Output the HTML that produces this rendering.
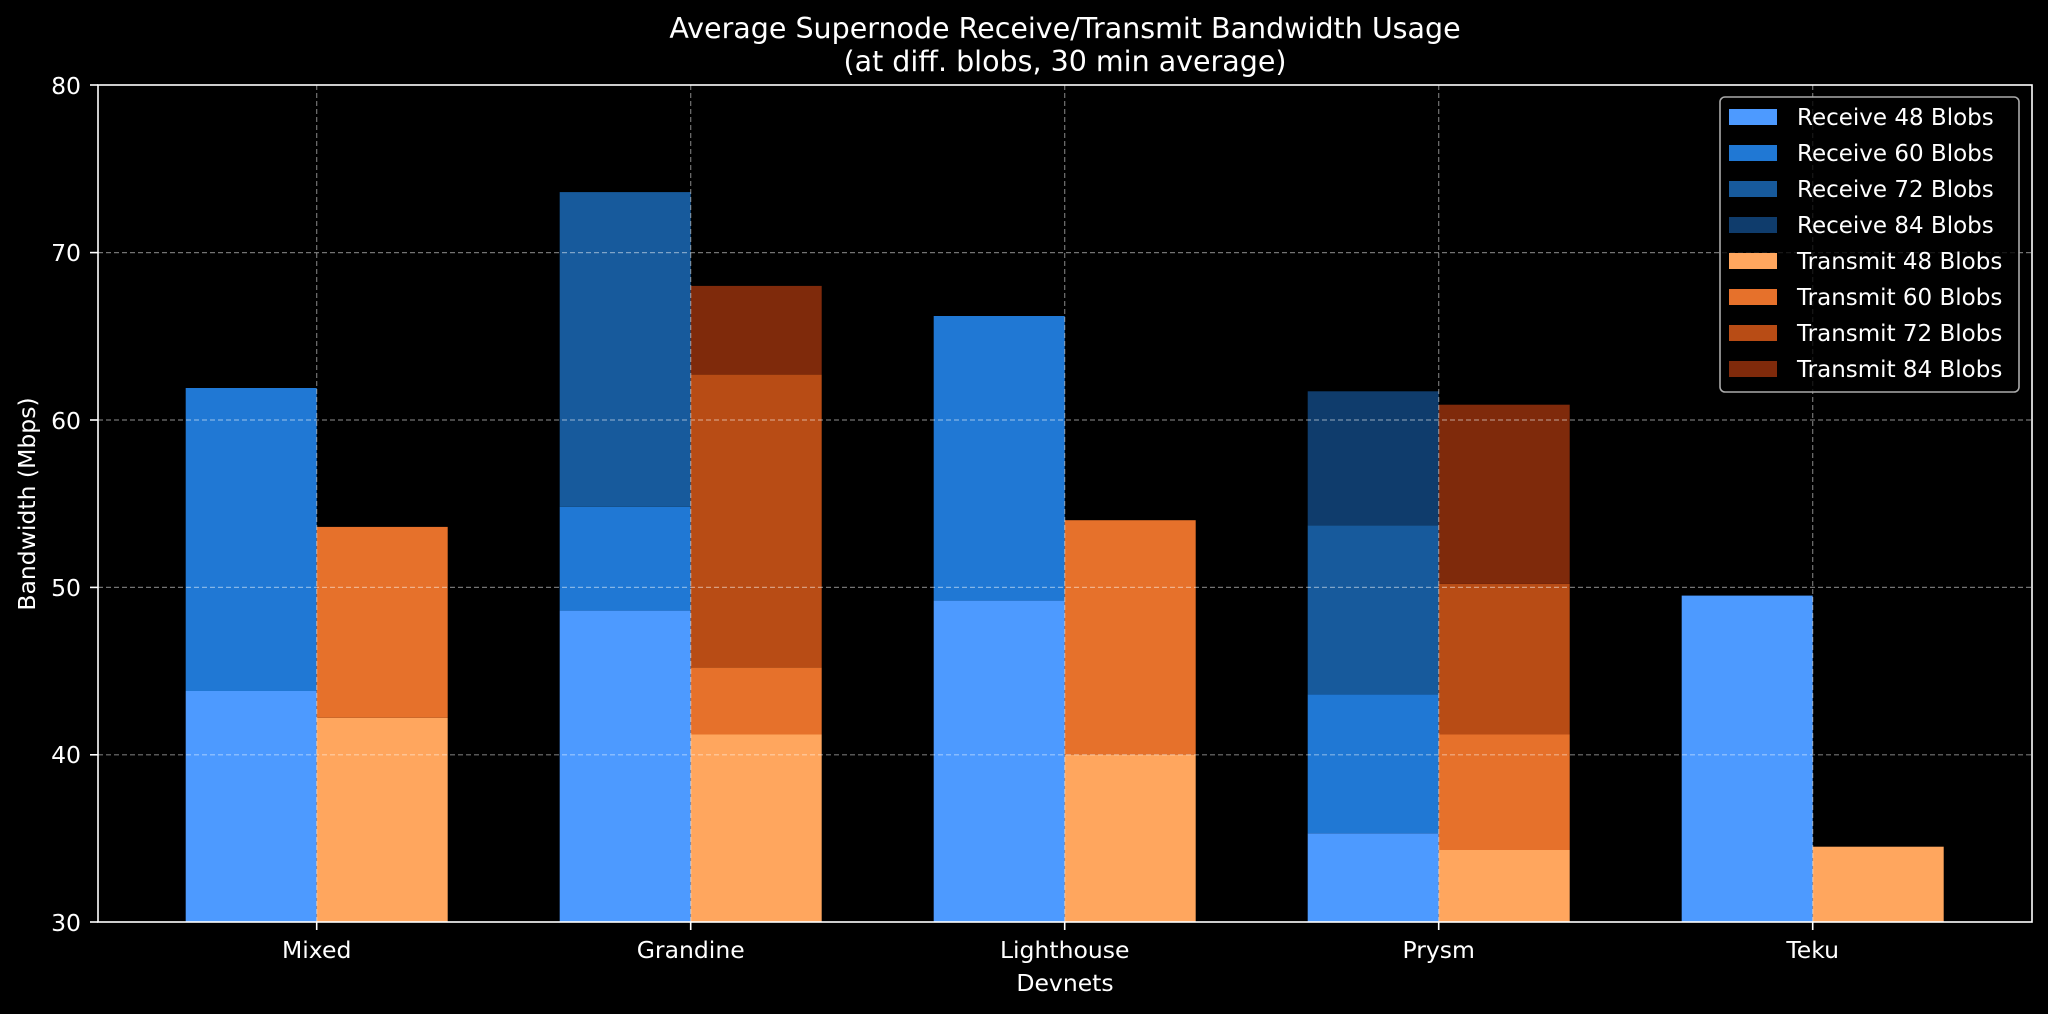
<!DOCTYPE html>
<html><head><meta charset="utf-8"><style>html,body{margin:0;padding:0;background:#000;}svg{display:block}</style></head>
<body>
<svg width="2048" height="1014" xmlns="http://www.w3.org/2000/svg" font-family="DejaVu Sans, Liberation Sans, sans-serif" fill="#fff">
<rect width="2048" height="1014" fill="#000"/>
<g>
<rect x="185.7" y="691.0" width="131" height="231.0" fill="#4d9aff"/>
<rect x="185.7" y="388.0" width="131" height="303.0" fill="#2078d4"/>
<rect x="316.7" y="717.8" width="131" height="204.2" fill="#ffa65e"/>
<rect x="316.7" y="526.9" width="131" height="190.9" fill="#e6712b"/>
<rect x="559.7" y="610.6" width="131" height="311.4" fill="#4d9aff"/>
<rect x="559.7" y="506.8" width="131" height="103.8" fill="#2078d4"/>
<rect x="559.7" y="192.1" width="131" height="314.7" fill="#175a9c"/>
<rect x="690.7" y="734.5" width="131" height="187.5" fill="#ffa65e"/>
<rect x="690.7" y="667.6" width="131" height="66.9" fill="#e6712b"/>
<rect x="690.7" y="374.6" width="131" height="293.0" fill="#b84c15"/>
<rect x="690.7" y="285.9" width="131" height="88.7" fill="#7f2a0b"/>
<rect x="933.7" y="600.6" width="131" height="321.4" fill="#4d9aff"/>
<rect x="933.7" y="316.0" width="131" height="284.6" fill="#2078d4"/>
<rect x="1064.7" y="754.6" width="131" height="167.4" fill="#ffa65e"/>
<rect x="1064.7" y="520.2" width="131" height="234.4" fill="#e6712b"/>
<rect x="1307.7" y="833.3" width="131" height="88.7" fill="#4d9aff"/>
<rect x="1307.7" y="694.3" width="131" height="139.0" fill="#2078d4"/>
<rect x="1307.7" y="525.3" width="131" height="169.0" fill="#175a9c"/>
<rect x="1307.7" y="391.3" width="131" height="134.0" fill="#0f3c6c"/>
<rect x="1438.7" y="850.0" width="131" height="72.0" fill="#ffa65e"/>
<rect x="1438.7" y="734.5" width="131" height="115.5" fill="#e6712b"/>
<rect x="1438.7" y="583.9" width="131" height="150.6" fill="#b84c15"/>
<rect x="1438.7" y="404.7" width="131" height="179.2" fill="#7f2a0b"/>
<rect x="1681.7" y="595.6" width="131" height="326.4" fill="#4d9aff"/>
<rect x="1812.7" y="846.7" width="131" height="75.3" fill="#ffa65e"/>
</g>
<g stroke="#fff" stroke-opacity="0.45" stroke-width="1.2" stroke-dasharray="5,3">
<line x1="98" x2="2032" y1="252.6" y2="252.6"/><line x1="98" x2="2032" y1="420" y2="420"/><line x1="98" x2="2032" y1="587.4" y2="587.4"/><line x1="98" x2="2032" y1="754.8" y2="754.8"/>
<line x1="316.7" x2="316.7" y1="85" y2="922"/><line x1="690.7" x2="690.7" y1="85" y2="922"/><line x1="1064.7" x2="1064.7" y1="85" y2="922"/><line x1="1438.7" x2="1438.7" y1="85" y2="922"/><line x1="1812.7" x2="1812.7" y1="85" y2="922"/>
</g>
<rect x="98" y="85" width="1934" height="837" fill="none" stroke="#fff" stroke-width="1.6"/>
<g stroke="#fff" stroke-width="1.6">
<line x1="90" x2="98" y1="85" y2="85"/><line x1="90" x2="98" y1="252.6" y2="252.6"/><line x1="90" x2="98" y1="420" y2="420"/><line x1="90" x2="98" y1="587.4" y2="587.4"/><line x1="90" x2="98" y1="754.8" y2="754.8"/><line x1="90" x2="98" y1="922" y2="922"/>
<line x1="316.7" x2="316.7" y1="922" y2="930"/><line x1="690.7" x2="690.7" y1="922" y2="930"/><line x1="1064.7" x2="1064.7" y1="922" y2="930"/><line x1="1438.7" x2="1438.7" y1="922" y2="930"/><line x1="1812.7" x2="1812.7" y1="922" y2="930"/>
</g>
<g font-size="23.5" text-anchor="end">
<text x="81" y="94">80</text><text x="81" y="261">70</text><text x="81" y="429">60</text><text x="81" y="596">50</text><text x="81" y="763">40</text><text x="81" y="931">30</text>
</g>
<g font-size="23.5" text-anchor="middle">
<text x="316.7" y="958">Mixed</text><text x="690.7" y="958">Grandine</text><text x="1064.7" y="958">Lighthouse</text><text x="1438.7" y="958">Prysm</text><text x="1812.7" y="958">Teku</text>
<text x="1065" y="991">Devnets</text>
<text x="1065" y="38" font-size="28.5">Average Supernode Receive/Transmit Bandwidth Usage</text>
<text x="1065" y="71" font-size="28.5">(at diff. blobs, 30 min average)</text>
<text transform="translate(35,504) rotate(-90)">Bandwidth (Mbps)</text>
</g>
<rect x="1720" y="97" width="299" height="295" rx="5" fill="#000" fill-opacity="0.8" stroke="#aaa" stroke-width="1.6"/>
<g font-size="23">
<rect x="1729" y="109" width="48" height="16" fill="#4d9aff"/><text x="1797" y="125">Receive 48 Blobs</text>
<rect x="1729" y="145" width="48" height="16" fill="#2078d4"/><text x="1797" y="161">Receive 60 Blobs</text>
<rect x="1729" y="181" width="48" height="16" fill="#175a9c"/><text x="1797" y="197">Receive 72 Blobs</text>
<rect x="1729" y="217" width="48" height="16" fill="#0f3c6c"/><text x="1797" y="233">Receive 84 Blobs</text>
<rect x="1729" y="253" width="48" height="16" fill="#ffa65e"/><text x="1797" y="269">Transmit 48 Blobs</text>
<rect x="1729" y="289" width="48" height="16" fill="#e6712b"/><text x="1797" y="305">Transmit 60 Blobs</text>
<rect x="1729" y="325" width="48" height="16" fill="#b84c15"/><text x="1797" y="341">Transmit 72 Blobs</text>
<rect x="1729" y="361" width="48" height="16" fill="#7f2a0b"/><text x="1797" y="377">Transmit 84 Blobs</text>
</g>
</svg>
</body></html>
